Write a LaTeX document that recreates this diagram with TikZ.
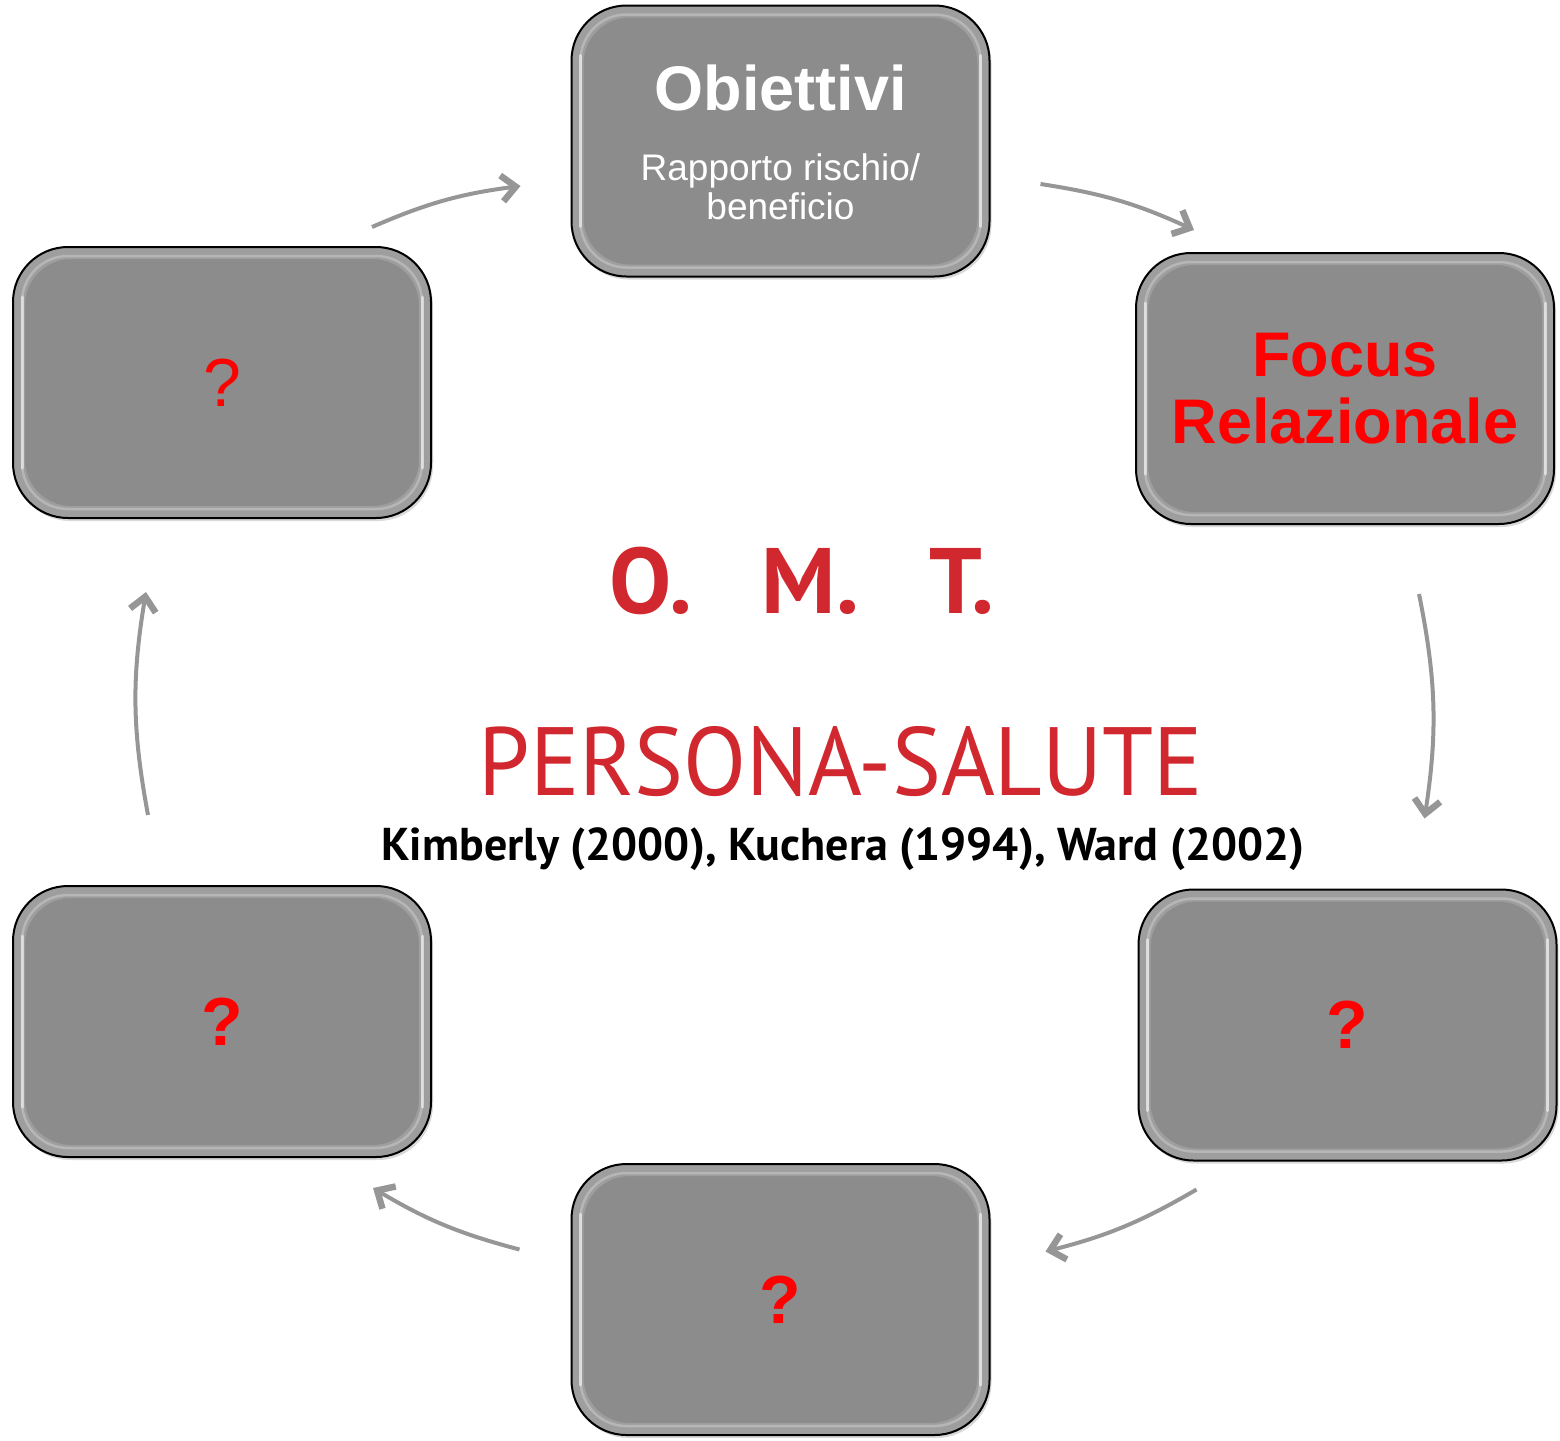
\documentclass[tikz,border=0pt]{standalone}
\usepackage{fontspec}
\setmainfont{Liberation Sans}
\newfontfamily\omtfont{PT Sans}
\newfontfamily\omtnarrow[FakeStretch=0.95]{PT Sans}
\usetikzlibrary{arrows.meta,shadows}
\definecolor{tilegray}{RGB}{140,140,140}
\definecolor{ringgray}{RGB}{150,150,150}
\definecolor{omtred}{RGB}{209,40,47}
\tikzset{
  tile/.style={draw=black, line width=2pt, fill=tilegray, rounded corners=55pt,
    minimum width=418pt, minimum height=271pt, inner sep=0pt,
    drop shadow={shadow xshift=2pt, shadow yshift=-3pt, opacity=.3},
    path picture={
      \draw[white, opacity=.16, line width=12pt, rounded corners=52pt]
        ([shift={(6pt,6pt)}]path picture bounding box.south west) rectangle ([shift={(-6pt,-6pt)}]path picture bounding box.north east);
      \draw[white, opacity=.25, line width=2.5pt, rounded corners=46pt]
        ([shift={(9pt,9pt)}]path picture bounding box.south west) rectangle ([shift={(-9pt,-9pt)}]path picture bounding box.north east);
      \draw[white, opacity=.55, line width=3pt, line cap=round]
        ([shift={(9pt,50pt)}]path picture bounding box.south west) -- ([shift={(9pt,-50pt)}]path picture bounding box.north west)
        ([shift={(-9pt,50pt)}]path picture bounding box.south east) -- ([shift={(-9pt,-50pt)}]path picture bounding box.north east);
    }},
  qmark/.style={text=red, font=\bfseries\fontsize{68}{68}\selectfont},
  ringarrow/.style={ringgray, line width=4pt, -{Straight Barb[length=14pt,width=26pt,line width=6.5pt]}}
}

\begin{document}
\begin{tikzpicture}[x=1pt,y=-1pt]
	\useasboundingbox (0,0) rectangle (1560,1440);
	\node[tile] (obiettivi) at (780.5,141) {};
	\node[tile,text=red,align=center,font=\bfseries\fontsize{63}{67}\selectfont] (focus) at (1345,388.5) {Focus\\Relazionale};
	\node[tile,qmark] (qbr) at (1347.5,1025) {?};
	\node[tile,qmark] (qbot) at (780.5,1299.5) {?};
	\node[tile,qmark] (qbl) at (222,1021.5) {?};
	\node[tile,text=red,font=\fontsize{68}{68}\selectfont] (qtl) at (222,382.5) {?};
	\node[anchor=base,text=white,font=\bfseries\fontsize{63}{63}\selectfont] (objtitle) at (780.5,110) {Obiettivi};
	\node[anchor=base,text=white,font=\fontsize{37}{40}\selectfont] (objsub) at (780.5,180) {Rapporto rischio/};
	\node[anchor=base,text=white,font=\fontsize{37}{40}\selectfont] (objsubb) at (780.5,219) {beneficio};
	\node[anchor=base,text=omtred,font=\omtfont\bfseries\fontsize{93}{93}\selectfont] (omt) at (802,613) {O.\hspace{70pt}M.\hspace{70pt}T.};
	\node[anchor=base,text=omtred,font=\omtnarrow\fontsize{97}{97}\selectfont] (persona) at (841,795) {PERSONA-SALUTE};
	\node[anchor=base,font=\omtfont\bfseries\fontsize{46}{46}\selectfont] (refs) at (843,860) {Kimberly (2000), Kuchera (1994), Ward (2002)};
	\coordinate (r1s) at ([shift={(-60,-19)}]qtl.north east);
	\coordinate (r1e) at ([shift={(-50,45)}]obiettivi.west);
	\coordinate (r2s) at ([shift={(50,43)}]obiettivi.east);
	\coordinate (r2e) at ([shift={(59,-22)}]focus.north west);
	\coordinate (r3s) at ([shift={(-136,69)}]focus.south east);
	\coordinate (r3e) at ([shift={(-133,-70)}]qbr.north east);
	\coordinate (r4s) at ([shift={(59,28)}]qbr.south west);
	\coordinate (r4e) at ([shift={(55,-48)}]qbot.east);
	\coordinate (r5s) at ([shift={(-51,-50)}]qbot.west);
	\coordinate (r5e) at ([shift={(-59,30)}]qbl.south east);
	\coordinate (r6s) at ([shift={(136,-70)}]qbl.north west);
	\coordinate (r6e) at ([shift={(134,73)}]qtl.south west);
	\draw[ringarrow] (r1s) to[bend left=8] (r1e);
	\draw[ringarrow] (r2s) to[bend left=8] (r2e);
	\draw[ringarrow] (r3s) to[bend left=10] (r3e);
	\draw[ringarrow] (r4s) to[bend left=8] (r4e);
	\draw[ringarrow] (r5s) to[bend left=8] (r5e);
	\draw[ringarrow] (r6s) to[bend left=10] (r6e);
\end{tikzpicture}
\end{document}
